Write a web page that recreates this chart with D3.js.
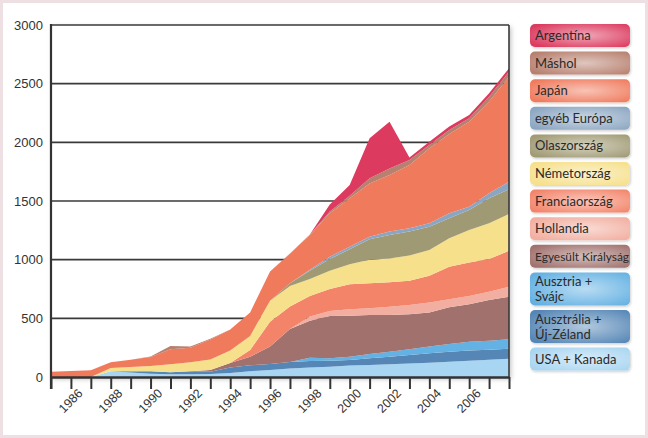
<!DOCTYPE html>
<html><head><meta charset="utf-8">
<script src="https://cdn.jsdelivr.net/npm/d3@7"></script>
<style>
html,body{margin:0;padding:0;background:#fff;}
svg{display:block;font-family:"Open Sans","Noto Sans",sans-serif;}
</style></head>
<body>
<svg id="chart" width="648" height="438"></svg>
<script>
// ---- DATA ----
const years = [1985,1986,1987,1988,1989,1990,1991,1992,1993,1994,1995,1996,1997,1998,1999,2000,2001,2002,2003,2004,2005,2006,2007,2008];
const yTicks = [0,500,1000,1500,2000,2500,3000];
const xLabelYears = [1986,1988,1990,1992,1994,1996,1998,2000,2002,2004,2006];

const usaKanada          = [0,0,0,50,38,28,23,24,26,35,50,60,72,82,88,97,102,108,114,122,130,138,146,155];
const ausztraliaUjZeland = [0,0,0,0,12,20,17,24,19,45,50,51,56,54,50,48,57,65,74,80,86,88,87,85];
const ausztriaSvajc      = [0,0,0,0,0,0,0,0,0,0,0,0,0,29,22,28,37,43,48,58,65,75,77,81];
const egyesultKiralysag  = [0,0,0,0,0,0,0,0,15,40,73,148,282,315,360,350,332,312,298,290,314,319,346,364];
const hollandia          = [0,0,0,0,0,0,0,0,0,0,0,0,0,35,42,54,57,71,80,85,67,70,71,85];
const franciaorszag      = [0,0,0,0,0,0,0,0,0,0,57,211,190,175,188,213,215,208,206,227,278,285,278,305];
const nemetorszag        = [0,0,0,27,35,46,68,77,90,105,120,180,175,145,155,170,200,204,215,220,242,278,305,314];
const olaszorszag        = [0,0,0,0,0,0,0,0,0,0,0,0,25,70,100,128,173,199,205,199,170,170,213,211];
const egyebEuropa        = [0,0,0,0,0,0,0,0,0,0,0,0,0,10,20,23,23,29,27,29,43,29,42,65];
const japan              = [45,52,58,48,63,76,128,125,170,180,200,250,250,295,370,412,454,483,540,639,676,724,782,895];
const mashol             = [0,0,0,0,0,5,29,10,5,0,0,0,3,5,15,22,43,56,42,28,34,29,42,42];
const argentina          = [0,0,0,0,0,0,0,0,0,0,0,0,0,0,60,91,341,398,21,29,29,28,29,29];

// series bottom -> top
const seriesNames  = ["USA + Kanada","Ausztrália + Új-Zéland","Ausztria + Svájc","Egyesült Királyság","Hollandia","Franciaország","Németország","Olaszország","egyéb Európa","Japán","Máshol","Argentína"];
const seriesValues = [usaKanada,ausztraliaUjZeland,ausztriaSvajc,egyesultKiralysag,hollandia,franciaorszag,nemetorszag,olaszorszag,egyebEuropa,japan,mashol,argentina];
const seriesColors = ["#a8d5f1","#5586b6","#64b1e3","#a0716d","#f2aea0","#f3846a","#f6e08c","#a09a74","#8ba6c2","#f07a5c","#b7806f","#dc3a5e"];
const legendLines  = [["USA + Kanada"],["Ausztrália +","Új-Zéland"],["Ausztria +","Svájc"],["Egyesült Királyság"],["Hollandia"],["Franciaország"],["Németország"],["Olaszország"],["egyéb Európa"],["Japán"],["Máshol"],["Argentína"]];

// ---- BUILD ----
const svg = d3.select("#chart");
const W = 648, H = 438;
const plot = {left:51, right:509, top:25, bottom:377};

const defs = svg.append("defs");
const sh = defs.append("filter").attr("id","shadow").attr("x","-20%").attr("y","-20%").attr("width","150%").attr("height","150%");
sh.append("feDropShadow").attr("dx",2).attr("dy",2).attr("stdDeviation",2.5).attr("flood-color","#000").attr("flood-opacity",0.25);
const sh2 = defs.append("filter").attr("id","lshadow").attr("x","-20%").attr("y","-30%").attr("width","140%").attr("height","170%");
sh2.append("feDropShadow").attr("dx",1).attr("dy",1.5).attr("stdDeviation",1.2).attr("flood-color","#000").attr("flood-opacity",0.18);

// frame
svg.append("rect").attr("x",1.5).attr("y",1.5).attr("width",W-3).attr("height",H-3)
  .attr("fill","#fff").attr("stroke","#eedfe2").attr("stroke-width",3);

const x = d3.scaleLinear().domain([years[0], years[years.length-1]]).range([plot.left, plot.right]);
const y = d3.scaleLinear().domain([0,3000]).range([plot.bottom, plot.top]);

// plot background w/ shadow
svg.append("rect").attr("x",plot.left).attr("y",plot.top).attr("width",plot.right-plot.left).attr("height",plot.bottom-plot.top)
  .attr("fill","#fff").attr("filter","url(#shadow)");

// gridlines
svg.append("g").selectAll("line").data(yTicks.filter(d=>d>0)).join("line")
  .attr("x1",plot.left).attr("x2",plot.right).attr("y1",d=>y(d)).attr("y2",d=>y(d))
  .attr("stroke","#3a3a3a").attr("stroke-width",1.6);

// stacked areas
const table = years.map((yr,i)=>{ const o={year:yr}; seriesNames.forEach((n,k)=>o[n]=seriesValues[k][i]); return o; });
const stack = d3.stack().keys(seriesNames)(table);
const area = d3.area().x(d=>x(d.data.year)).y0(d=>y(d[0])).y1(d=>y(d[1]));
svg.append("g").selectAll("path").data(stack).join("path")
  .attr("d",area).attr("fill",(d,i)=>seriesColors[i]);

// right border
svg.append("line").attr("x1",plot.right).attr("x2",plot.right).attr("y1",plot.top).attr("y2",plot.bottom)
  .attr("stroke","#3a3a3a").attr("stroke-width",1.6);

// y axis
const yAxis = svg.append("g").attr("transform",`translate(${plot.left},0)`)
  .call(d3.axisLeft(y).tickValues(yTicks).tickSize(0).tickPadding(8).tickFormat(d3.format("d")));
yAxis.select(".domain").remove();
yAxis.selectAll("text").attr("font-size",13).attr("fill","#333");
svg.append("line").attr("x1",plot.left).attr("x2",plot.left).attr("y1",plot.top-1).attr("y2",plot.bottom+12)
  .attr("stroke","#333").attr("stroke-width",2.2);

// x axis
const xAxis = svg.append("g").attr("transform",`translate(0,${plot.bottom})`)
  .call(d3.axisBottom(x).tickValues(years).tickSize(12).tickSizeOuter(0)
    .tickFormat(d=> xLabelYears.includes(d) ? String(d) : ""));
xAxis.select(".domain").attr("stroke","#333").attr("stroke-width",2.6);
xAxis.selectAll(".tick line").attr("stroke","#333").attr("stroke-width",2);
xAxis.selectAll("text").attr("font-size",12.5).attr("fill","#333")
  .attr("text-anchor","end").attr("dy",null).attr("y",null)
  .attr("transform","translate(12,17) rotate(-45)");

// legend
const lg = svg.append("g");
const order = d3.range(seriesNames.length).reverse();
let ly = 24;
order.forEach(i=>{
  const lines = legendLines[i];
  const h = lines.length>1 ? 33 : 23;
  const c = d3.color(seriesColors[i]);
  const gid = "lg"+i;
  const g = defs.append("radialGradient").attr("id",gid).attr("cx","55%").attr("cy","50%").attr("r","65%");
  g.append("stop").attr("offset","0%").attr("stop-color",d3.interpolateRgb(c,"#fff")(0.55));
  g.append("stop").attr("offset","100%").attr("stop-color",c.formatHex());
  lg.append("rect").attr("x",530).attr("y",ly).attr("width",100).attr("height",h).attr("rx",5)
    .attr("fill",`url(#${gid})`).attr("filter","url(#lshadow)");
  const isSmall = seriesNames[i]==="Egyesült Királyság";
  lines.forEach((ln,j)=>{
    const t = lg.append("text").attr("x",535)
      .attr("y", lines.length>1 ? ly+13.5+j*15 : ly+h/2+4.5)
      .attr("fill","#2a2a2a")
      .attr("font-family","Lato,'Open Sans',sans-serif")
      .attr("font-size", isSmall ? 11.5 : 13)
      .text(ln);
    if(isSmall) t.attr("textLength",94).attr("lengthAdjust","spacingAndGlyphs");
  });
  ly += h + 4.6;
});
</script>
</body></html>
